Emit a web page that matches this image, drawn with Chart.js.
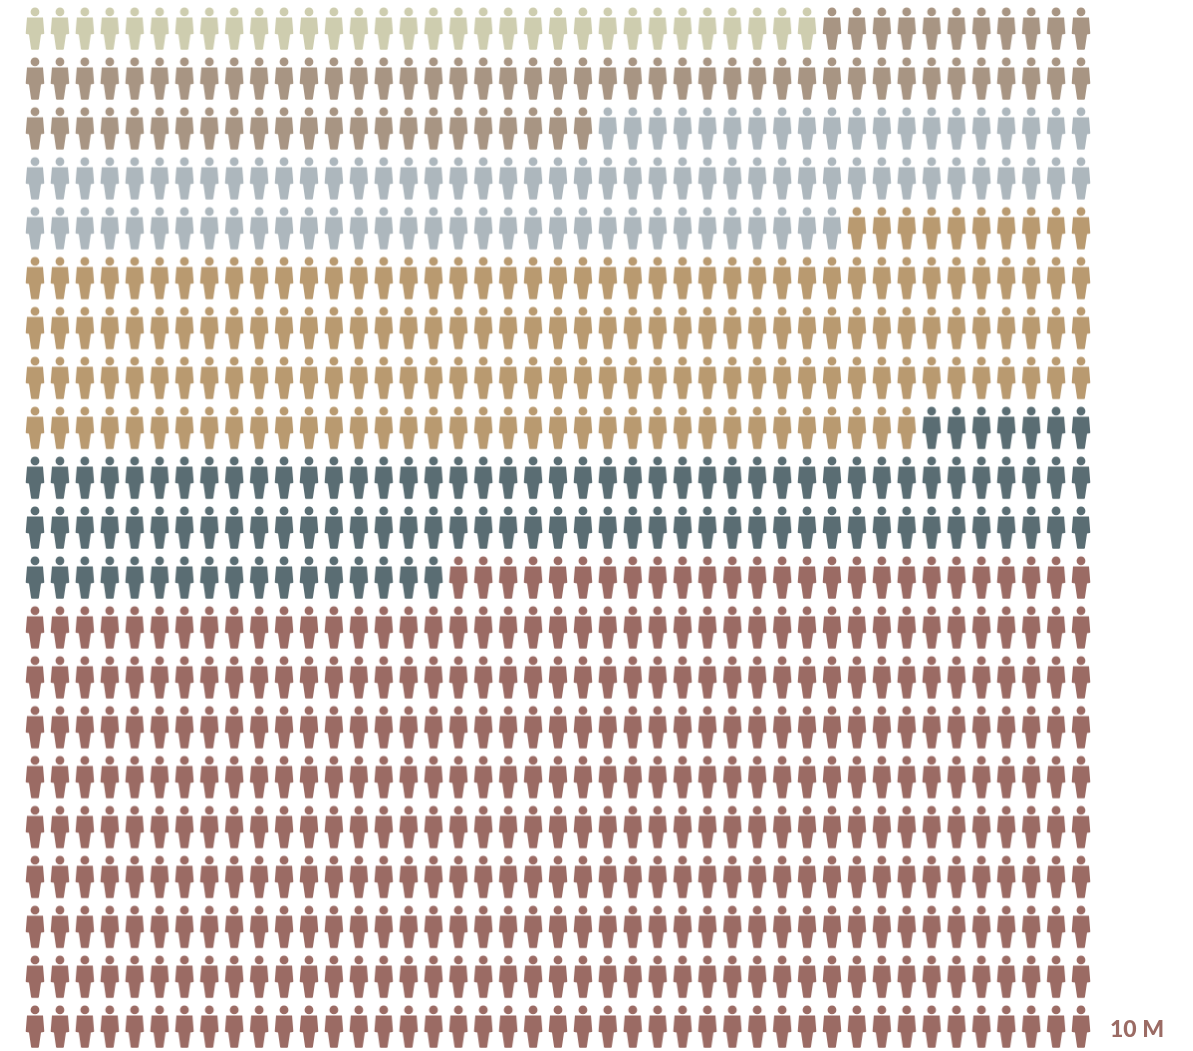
<!doctype html>
<html>
<head>
<meta charset="utf-8">
<title>Population pictogram</title>
<style>
  html, body { margin: 0; background: #fff; }
  #wrap { position: relative; width: 1193px; height: 1051px; }
</style>
</head>
<body>
<div id="wrap"><canvas id="myChart"></canvas></div>
<script src="https://cdn.jsdelivr.net/npm/chart.js@4/dist/chart.umd.js"></script>
<script>
// one icon = 10 M, filled row by row
const categories = ['Group 1', 'Group 2', 'Group 3', 'Group 4', 'Group 5', 'Group 6']
const counts = [32, 77, 96, 175, 110, 413]
const colors = ['#cecdaf', '#a89583', '#adb7bd', '#b99a70', '#5a6d73', '#9b6b64']
const columns = 43
const rows = 21
const unitLabel = '10 M'

const personIcon = (color) => {
  const icon = document.createElement('canvas')
  icon.width = 24
  icon.height = 48
  const c = icon.getContext('2d')
  c.fillStyle = color
  c.translate(12, 24)
  c.beginPath()
  c.arc(0, -17.1, 4.4, 0, Math.PI * 2)
  c.fill()
  c.beginPath()
  c.moveTo(-8, -11.6)
  c.lineTo(8, -11.6)
  c.lineTo(9.3, 4.4)
  c.lineTo(8.8, 5)
  c.lineTo(6, 5.6)
  c.lineTo(3.9, 20)
  c.quadraticCurveTo(3.8, 20.7, 3, 20.7)
  c.lineTo(-3, 20.7)
  c.quadraticCurveTo(-3.8, 20.7, -3.9, 20)
  c.lineTo(-6, 5.6)
  c.lineTo(-8.8, 5)
  c.lineTo(-9.3, 4.4)
  c.closePath()
  c.fill()
  return icon
}

(() => {
  'use strict'

  let seen = 0
  const datasets = categories.map((label, k) => {
    const data = []
    for (let n = 0; n < counts[k]; n++, seen++) {
      data.push({ x: seen % columns, y: Math.floor(seen / columns) })
    }
    return {
      label,
      data,
      clip: false,
      pointStyle: personIcon(colors[k]),
      backgroundColor: colors[k],
      borderColor: colors[k]
    }
  })

  // eslint-disable-next-line no-unused-vars
  const myChart = new Chart(document.getElementById('myChart'), {
    type: 'scatter',
    data: { datasets },
    options: {
      responsive: true,
      maintainAspectRatio: false,
      animation: false,
      layout: { padding: { left: 35, top: 29, right: 0, bottom: 24 } },
      plugins: {
        legend: { display: false },
        tooltip: { displayColors: false }
      },
      scales: {
        x: { display: false, min: 0, max: columns - 1 },
        y: {
          position: 'right',
          reverse: true,
          min: 0,
          max: rows - 1,
          grid: { display: false, drawTicks: false },
          border: { display: false },
          afterFit: (scale) => {
            scale.width = 112
            scale.paddingTop = 0
            scale.paddingBottom = 0
          },
          afterBuildTicks: (scale) => { scale.ticks = [{ value: rows - 1 }] },
          ticks: {
            callback: () => unitLabel,
            color: colors[5],
            padding: 29,
            labelOffset: 3,
            crossAlign: 'near',
            font: { family: 'Lato', size: 23, weight: '900' }
          }
        }
      }
    }
  })
})()
</script>
</body>
</html>
